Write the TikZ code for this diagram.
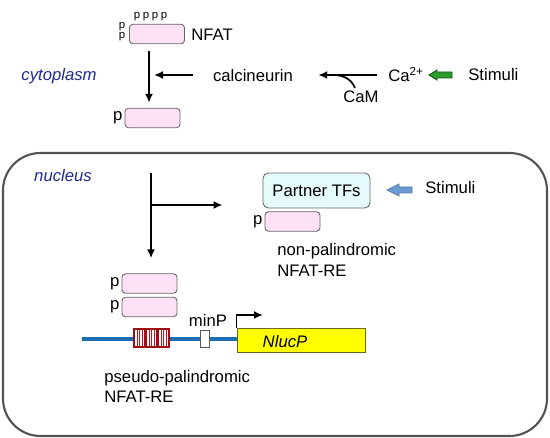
\documentclass[tikz,border=0pt]{standalone}
\usepackage{fontspec}
\setmainfont{Liberation Sans}
\usetikzlibrary{arrows.meta}
\definecolor{nfatpink}{HTML}{FFE1F6}
\definecolor{tfcyan}{HTML}{E6FBFB}
\definecolor{locblue}{HTML}{1F2A8F}
\definecolor{dnablue}{HTML}{1B6FB0}
\definecolor{stimgreen}{HTML}{2E9B2E}
\definecolor{stimblue}{HTML}{6B9BD2}
\definecolor{rered}{HTML}{C0141A}
\definecolor{nlucyellow}{HTML}{FFFF00}
\begin{document}
\begin{tikzpicture}[x=0.02cm, y=-0.02cm,
    font=\fontsize{9.5}{11.4}\selectfont,
    txt/.style={inner sep=0pt},
    tinyp/.style={inner sep=0pt, font=\fontsize{6.5}{7}\selectfont},
    ptag/.style={inner sep=1pt, anchor=east},
    nfatbox/.style={draw=gray!80!black, line width=0.5pt, fill=nfatpink, rounded corners=2pt,
        minimum width=1.1cm, minimum height=0.39cm, inner sep=0pt},
    loc/.style={inner sep=0pt, text=locblue, font=\fontsize{9.5}{11.4}\selectfont\itshape},
    arr/.style={-{Latex[length=1.8mm,width=1.6mm]}, line width=1pt},
]
    \useasboundingbox (0,0) rectangle (550,438);

    % cytoplasm
    \node[nfatbox] (nfatTop) at (157,34) {};
    \foreach \x [count=\i] in {137,146,155,164}
        \node[tinyp] (pp\i) at (\x,17) {p};
    \node[tinyp] (pl1) at (122,27) {p};
    \node[tinyp] (pl2) at (122,36.5) {p};
    \node[txt, anchor=base west] (nfatLbl) at (191,41) {NFAT};

    \node[nfatbox] (nfatMid) at (152.5,118) {};
    \node[ptag] (pMid) at (nfatMid.west) {p};
    \node[loc, anchor=base] (cyto) at (59,81) {cytoplasm};

    \coordinate (dropx) at (149,0);
    \draw[arr, shorten <=0.14cm, shorten >=0.1cm] (nfatTop.south -| dropx) -- (nfatMid.north -| dropx);

    \node[txt, anchor=base] (calc) at (253,82) {calcineurin};
    \node[txt, anchor=base west] (ca) at (388,82) {Ca\textsuperscript{2+}};
    \node[txt, anchor=base] (cam) at (361,103) {CaM};
    \node[txt, anchor=base west] (stimA) at (468,81) {Stimuli};

    \coordinate (calcTail) at (193,75);
    \coordinate (caTail) at (377,75);
    \coordinate (join) at (333,75);
    \draw[arr, shorten >=0.1cm] (calcTail) -- (calcTail -| dropx);
    \draw[arr, shorten >=0.5cm] (caTail) -- (caTail -| calc.east);
    \draw[line width=1pt] ([xshift=-0.12cm,yshift=0.06cm]cam.north) to[out=112,in=0] (join);

    \coordinate (greenTip) at (429,75);
    \filldraw[fill=stimgreen, draw=stimgreen!55!black, line width=0.5pt]
        (greenTip) -- ++(8,-5) -- ++(0,2) -- ++(15,0) -- ++(0,6) -- ++(-15,0) -- ++(0,2) -- cycle;

    % nucleus
    \draw[gray!65!black, line width=1.2pt, rounded corners=0.75cm] (3,153) rectangle (547,436);
    \node[loc, anchor=base] (nuc) at (63,182) {nucleus};

    \node[draw=gray!80!black, line width=0.5pt, fill=tfcyan, rounded corners=3pt,
        minimum width=2.14cm, minimum height=0.7cm, inner sep=0pt] (partner) at (316.5,190.5) {Partner TFs};
    \node[nfatbox] (nfatPart) at (292.5,221.5) {};
    \node[ptag] (pPart) at (nfatPart.west) {p};
    \node[txt, anchor=base west] (npal1) at (277,256) {non-palindromic};
    \node[txt, anchor=base west] (npal2) at (277,277) {NFAT-RE};

    \coordinate (blueTip) at (387,190);
    \filldraw[fill=stimblue, draw=stimblue!80!black, line width=0.4pt]
        (blueTip) -- ++(12,-6) -- ++(0,3) -- ++(13,0) -- ++(0,6) -- ++(-13,0) -- ++(0,3) -- cycle;
    \node[txt, anchor=base west] (stimB) at (425,194) {Stimuli};

    \node[nfatbox] (nfatB1) at (149.5,283.5) {};
    \node[nfatbox] (nfatB2) at (149.5,307) {};
    \node[ptag] (pB1) at (nfatB1.west) {p};
    \node[ptag] (pB2) at (nfatB2.west) {p};

    \coordinate (nucTop) at (151,173);
    \coordinate (branch) at (151,205);
    \draw[arr, shorten >=0.3cm] (nucTop) -- (nucTop |- nfatB1.north);
    \draw[arr] (branch) -- ([xshift=-0.8cm]branch -| partner.west);

    % reporter
    \node[draw=olive!70!black, line width=0.5pt, fill=nlucyellow,
        minimum width=2.56cm, minimum height=0.48cm, inner sep=0pt] (nluc) at (301,340) {};
    \coordinate (dnaL) at (82,339);
    \draw[dnablue, line width=2.8pt] (dnaL) -- (dnaL -| nluc.west);
    \foreach \x in {134,146,158} {
        \filldraw[fill=white, draw=rered!80!black, line width=0.6pt] (\x,329) rectangle ++(11,18);
        \foreach \d in {3,5.5,8}
            \draw[rered, line width=0.5pt] (\x+\d,329) -- ++(0,18);
    }
    \node[draw=gray!70!black, line width=0.5pt, fill=white,
        minimum width=0.18cm, minimum height=0.34cm, inner sep=0pt] (minpBox) at (204.5,338.5) {};
    \node[txt, anchor=base] (minp) at (208,326) {minP};
    \node[txt, anchor=base, font=\fontsize{9.5}{11.4}\selectfont\itshape] (nlucLbl) at (285,347) {NlucP};

    \coordinate (tss) at (263,315);
    \draw[arr] (nluc.north west) |- (tss);

    \node[txt, anchor=base west] (ppal1) at (104,382) {pseudo-palindromic};
    \node[txt, anchor=base west] (ppal2) at (104,402) {NFAT-RE};
\end{tikzpicture}
\end{document}
